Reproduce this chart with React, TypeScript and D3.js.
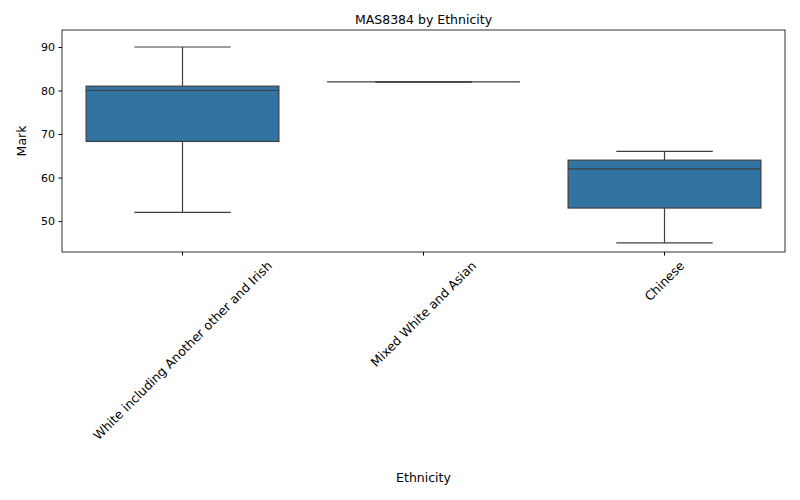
import { useEffect, useRef } from "react";
import * as d3 from "d3";

const categories = ["White including Another other and Irish", "Mixed White and Asian", "Chinese"];
const whiskerLow = [52, 82, 45];
const q1 = [68.3, 82, 53];
const median = [80, 82, 62];
const q3 = [81, 82, 64];
const whiskerHigh = [90, 82, 66];
const yTicks = [50, 60, 70, 80, 90];

const App = () => {
  const svgRef = useRef<SVGSVGElement | null>(null);

  useEffect(() => {
    if (!svgRef.current) return;
    const svg = d3.select(svgRef.current);
    svg.selectAll("*").remove();
    const left = 62, right = 785, top = 30, bottom = 252;
    const font = "DejaVu Sans, sans-serif";

    const x = d3.scaleBand().domain(categories).range([left, right]).paddingInner(0).paddingOuter(0);
    const y = d3.scaleLinear().domain([42.9, 93.9]).range([bottom, top]);
    const bw = x.bandwidth() * 0.8;

    const g = svg.append("g");
    categories.forEach((c, i) => {
      const cx = x(c)! + x.bandwidth() / 2;
      const line = (x1: number, y1: number, x2: number, y2: number) =>
        g.append("line").attr("x1", x1).attr("y1", y1).attr("x2", x2).attr("y2", y2)
          .attr("stroke", "#3f3f3f").attr("stroke-width", 1.2);
      line(cx, y(whiskerHigh[i]), cx, y(q3[i]));
      line(cx, y(q1[i]), cx, y(whiskerLow[i]));
      line(cx - bw / 4, y(whiskerHigh[i]), cx + bw / 4, y(whiskerHigh[i]));
      line(cx - bw / 4, y(whiskerLow[i]), cx + bw / 4, y(whiskerLow[i]));
      g.append("rect").attr("x", cx - bw / 2).attr("width", bw)
        .attr("y", y(q3[i])).attr("height", y(q1[i]) - y(q3[i]))
        .attr("fill", "#3274a1").attr("stroke", "#3f3f3f").attr("stroke-width", 1.2);
      line(cx - bw / 2, y(median[i]), cx + bw / 2, y(median[i]));
    });

    svg.append("rect").attr("x", left).attr("y", top).attr("width", right - left).attr("height", bottom - top)
      .attr("fill", "none").attr("stroke", "#000").attr("stroke-width", 0.8);

    const yAxis = svg.append("g").attr("transform", `translate(${left},0)`)
      .call(d3.axisLeft(y).tickValues(yTicks).tickSize(3.5).tickPadding(3.5));
    yAxis.select(".domain").remove();
    yAxis.selectAll("text").attr("font-family", font).attr("font-size", 11).attr("fill", "#000");

    const xAxis = svg.append("g").attr("transform", `translate(0,${bottom})`)
      .call(d3.axisBottom(x).tickSize(3.5).tickPadding(4));
    xAxis.select(".domain").remove();
    const fs = 12.5;
    xAxis.selectAll<SVGTextElement, string>("text").each(function () {
      const t = d3.select(this).attr("font-family", font).attr("font-size", fs).attr("fill", "#000")
        .attr("text-anchor", "middle").attr("y", 0).attr("dy", "0.35em");
      const w = this.getComputedTextLength();
      const h = (w + fs) * Math.SQRT1_2;
      t.attr("transform", `translate(0,${7 + h / 2}) rotate(-45)`);
    });

    svg.append("text").attr("x", (left + right) / 2).attr("y", 24).attr("text-anchor", "middle")
      .attr("font-family", font).attr("font-size", 12.5).text("MAS8384 by Ethnicity");
    svg.append("text").attr("x", (left + right) / 2).attr("y", 482).attr("text-anchor", "middle")
      .attr("font-family", font).attr("font-size", 12.5).text("Ethnicity");
    svg.append("text").attr("transform", `translate(26,${(top + bottom) / 2}) rotate(-90)`)
      .attr("text-anchor", "middle").attr("font-family", font).attr("font-size", 12.5).text("Mark");
  }, []);

  return <svg ref={svgRef} width={800} height={500} style={{ position: "absolute", left: 0, top: 0, background: "#fff" }} />;
};

export default App;
